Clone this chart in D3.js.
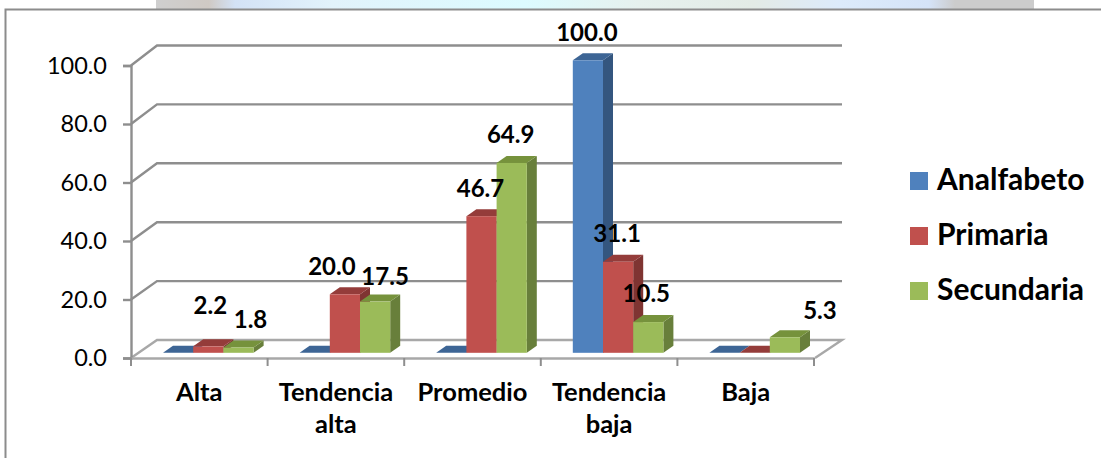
<!DOCTYPE html>
<html><head><meta charset="utf-8">
<script src="https://cdn.jsdelivr.net/npm/d3@7"></script>
<style>html,body{margin:0;padding:0;background:#fff}svg{display:block}text{font-family:Lato,sans-serif;fill:#000}</style>
</head><body><div id="chart"></div>
<script>
const categories = [["Alta"],["Tendencia","alta"],["Promedio"],["Tendencia","baja"],["Baja"]];
const seriesNames = ["Analfabeto","Primaria","Secundaria"];
const analfabeto = [0,0,0,100,0];
const primaria = [2.2,20,46.7,31.1,0];
const secundaria = [1.8,17.5,64.9,10.5,5.3];
const yTicks = [0,20,40,60,80,100];
const seriesValues = [analfabeto,primaria,secundaria];

const colors = [
 {front:"#4f81bd",top:"#3d6595",side:"#34567f"},
 {front:"#c0504d",top:"#943c3a",side:"#7f3432"},
 {front:"#9bbb59",top:"#76923c",side:"#687f3b"}];
const W=1101,H=458;
const svg=d3.select("#chart").append("svg").attr("width",W).attr("height",H);
const catKeys=categories.map(c=>c.join(" "));
const x=d3.scaleBand().domain(catKeys).range([131,814]);
const inner=d3.scaleBand().domain(seriesNames).range([32,122.6]);
const yF=d3.scaleLinear().domain([0,100]).range([358,65.5]);
const yB=d3.scaleLinear().domain([0,100]).range([340,45.5]);
const base=5.2, dx=10, dy=7, axisColor="#8e8e8e";

// top strip
const g=svg.append("defs").append("linearGradient").attr("id","strip");
[[0,"#cfcfcf"],[0.06,"#cfc9c4"],[0.09,"#d3e2f6"],[0.2,"#e2f3fb"],[0.42,"#dcfbff"],[0.55,"#e6f1ee"],[0.68,"#e3ebe6"],[0.78,"#dcebfb"],[0.88,"#d5e3f8"],[0.91,"#cccccc"],[1,"#cccccc"]]
 .forEach(s=>g.append("stop").attr("offset",s[0]).attr("stop-color",s[1]));
svg.append("rect").attr("x",156).attr("y",0).attr("width",878).attr("height",9).attr("fill","url(#strip)");
// frame
svg.append("path").attr("d",`M5.5,${H}V9.5H${W}`).attr("fill","none").attr("stroke","#8c8c8c").attr("stroke-width",2);

// walls and gridlines
const grid=svg.append("g").attr("fill","none").attr("stroke",axisColor);
yTicks.forEach(t=>{
  if(t>0) grid.append("path").attr("stroke-width",2.4).attr("d",`M131,${yF(t)}L157,${yB(t)}H842`);
  else grid.append("path").attr("stroke-width",2.4).attr("stroke","#a8a8a8").attr("d",`M131,${yF(t)}L157,${yB(t)}H842L815,${yF(t)}`);
});
// axes
const yAxis=d3.axisLeft(yF).tickValues(yTicks).tickFormat(d3.format(".1f")).tickSize(8).tickPadding(16);
const ya=svg.append("g").attr("transform","translate(131,0)").call(yAxis);
ya.selectAll("path,line").attr("stroke",axisColor).attr("stroke-width",2.4);
ya.selectAll("text").attr("font-size",23.5).attr("fill","#000");
const xa=svg.append("g").attr("transform",`translate(0,${yF(0)})`).call(d3.axisBottom(x).tickValues([]).tickSizeOuter(0));
xa.select("path").attr("stroke","#a8a8a8").attr("stroke-width",2.4);
const edges=catKeys.map(k=>x(k)).concat([x.range()[1]]);
xa.selectAll("line.e").data(edges).join("line").attr("class","e").attr("x1",d=>d).attr("x2",d=>d).attr("y1",0).attr("y2",8).attr("stroke",axisColor).attr("stroke-width",2);

// category labels
const cl=svg.append("g").attr("text-anchor","middle").attr("font-size",25.5).attr("font-weight",700);
categories.forEach((c,i)=>c.forEach((line,j)=>{
  cl.append("text").attr("x",x(catKeys[i])+x.bandwidth()/2).attr("y",401+j*32).text(line);
}));

// bars
const bars=svg.append("g");
catKeys.forEach((k,ci)=>{
  seriesNames.forEach((s,si)=>{
    const v=seriesValues[si][ci];
    const x0=x(k)+inner(s), w=inner.bandwidth();
    const y0=yF(0)-base, yt=yF(v)-base, c=colors[si];
    bars.append("path").attr("fill",c.side).attr("d",`M${x0+w},${yt}l${dx},${-dy}V${y0-dy}l${-dx},${dy}Z`);
    bars.append("path").attr("fill",c.top).attr("d",`M${x0},${yt}l${dx},${-dy}h${w}l${-dx},${dy}Z`);
    bars.append("rect").attr("x",x0).attr("y",yt).attr("width",w).attr("height",y0-yt).attr("fill",c.front);
  });
});

// value labels (on top of all bars); nudges follow the reference's hand-placed labels
const nudges={"0,1":[2,-13],"0,2":[12,-1],"1,1":[-13,0],"1,2":[10,2],"2,1":[-1,0],"2,2":[-1,-1],"3,0":[-1,0],"3,1":[-1,-1],"3,2":[-2,-1],"4,2":[35,1]};
const dl=svg.append("g").attr("text-anchor","middle").attr("font-size",24).attr("font-weight",700);
catKeys.forEach((k,ci)=>seriesNames.forEach((s,si)=>{
  const v=seriesValues[si][ci]; if(!v) return;
  const n=nudges[ci+","+si]||[0,0];
  dl.append("text").attr("x",x(k)+inner(s)+inner.bandwidth()/2+n[0]).attr("y",yF(v)-base-19+n[1]).text(d3.format(".1f")(v));
}));

// legend
const lg=svg.append("g");
seriesNames.forEach((s,i)=>{
  lg.append("rect").attr("x",910).attr("y",172+55*i).attr("width",18).attr("height",18).attr("fill",colors[i].front);
  lg.append("text").attr("x",937).attr("y",190+55*i).attr("font-size",30).attr("font-weight",700).text(s);
});
</script></body></html>
